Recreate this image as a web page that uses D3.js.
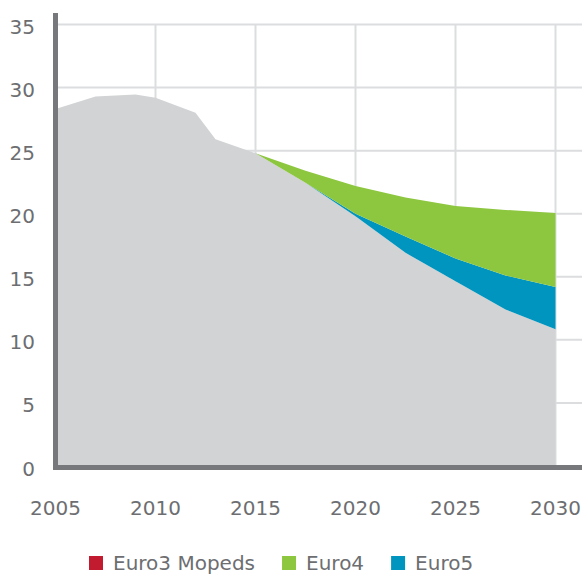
<!DOCTYPE html>
<html>
<head>
<meta charset="utf-8">
<script src="https://cdn.jsdelivr.net/npm/d3@7"></script>
<style>
  html, body { margin: 0; padding: 0; background: #ffffff; }
  svg { display: block; }
  text { font-family: "DejaVu Sans", sans-serif; fill: #6d6e71; }
</style>
</head>
<body>
<svg id="chart" width="582" height="576"></svg>
<script>
// ---- data ----
const years      = [2005, 2007, 2009, 2010, 2012, 2013, 2015, 2017.5, 2020, 2022.5, 2025, 2027.5, 2030];
const remaining  = [28.3, 29.3, 29.45, 29.2, 28.0, 25.9, 24.8, 22.45, 19.8, 16.9, 14.65, 12.4, 10.85];
const euro3Mopeds= [0,    0,    0,     0,    0,    0,    0,    0,     0,    0,    0,     0,    0];
const euro5      = [0,    0,    0,     0,    0,    0,    0,    0,     0.2,  1.3,  1.8,   2.7,  3.35];
const euro4      = [0,    0,    0,     0,    0,    0,    0,    0.95,  2.2,  3.08, 4.17,  5.2,  5.85];

const xTicks = [2005, 2010, 2015, 2020, 2025, 2030];
const yTicks = [0, 5, 10, 15, 20, 25, 30, 35];

const seriesKeys   = ["Remaining", "Euro3 Mopeds", "Euro5", "Euro4"];
const seriesColors = {"Remaining": "#d1d3d4", "Euro3 Mopeds": "#c21b2f", "Euro5": "#0095bf", "Euro4": "#8dc63f"};
const legendKeys   = ["Euro3 Mopeds", "Euro4", "Euro5"];

// ---- build table ----
const table = years.map((y, i) => ({
  year: y,
  "Remaining": remaining[i],
  "Euro3 Mopeds": euro3Mopeds[i],
  "Euro5": euro5[i],
  "Euro4": euro4[i]
}));

const svg = d3.select("#chart");
const x = d3.scaleLinear().domain([2005, 2030]).range([55.5, 555.5]);
const y = d3.scaleLinear().domain([0, 35]).range([466, 24.5]);

const gridColor = "#dcdddf";
const axisColor = "#77787b";

// grid
svg.append("g").selectAll("line.h").data(yTicks.filter(d => d > 0)).join("line")
  .attr("x1", 58).attr("x2", 582)
  .attr("y1", d => y(d)).attr("y2", d => y(d))
  .attr("stroke", gridColor).attr("stroke-width", 2);
svg.append("g").selectAll("line.v").data(xTicks.filter(d => d > 2005)).join("line")
  .attr("x1", d => x(d)).attr("x2", d => x(d))
  .attr("y1", y(35)).attr("y2", y(0))
  .attr("stroke", gridColor).attr("stroke-width", 2);

// stacked areas
const stack = d3.stack().keys(seriesKeys);
const stacked = stack(table);
const area = d3.area()
  .x(d => x(d.data.year))
  .y0(d => y(d[0]))
  .y1(d => y(d[1]));
svg.append("g").selectAll("path").data(stacked).join("path")
  .attr("d", area)
  .attr("fill", d => seriesColors[d.key]);

// axes lines
svg.append("line").attr("x1", 55.5).attr("x2", 55.5).attr("y1", 13).attr("y2", 470)
  .attr("stroke", axisColor).attr("stroke-width", 5);
svg.append("line").attr("x1", 53).attr("x2", 582).attr("y1", 467.5).attr("y2", 467.5)
  .attr("stroke", axisColor).attr("stroke-width", 5);

// y tick labels
svg.append("g").selectAll("text").data(yTicks).join("text")
  .attr("x", 35).attr("y", d => y(d) + 9.5)
  .attr("text-anchor", "end")
  .attr("font-size", 20)
  .text(d => d);

// x tick labels
svg.append("g").selectAll("text").data(xTicks).join("text")
  .attr("x", d => x(d)).attr("y", 515)
  .attr("text-anchor", "middle")
  .attr("font-size", 20)
  .text(d => d);

// legend
const lg = svg.append("g");
let lx = 89;
legendKeys.forEach(k => {
  lg.append("rect").attr("x", lx).attr("y", 556).attr("width", 14).attr("height", 14)
    .attr("fill", seriesColors[k]);
  const t = lg.append("text").attr("x", lx + 24).attr("y", 570)
    .attr("font-size", 20).text(k);
  const w = t.node().getComputedTextLength();
  lx = lx + 24 + w + 27;
});
</script>
</body>
</html>
